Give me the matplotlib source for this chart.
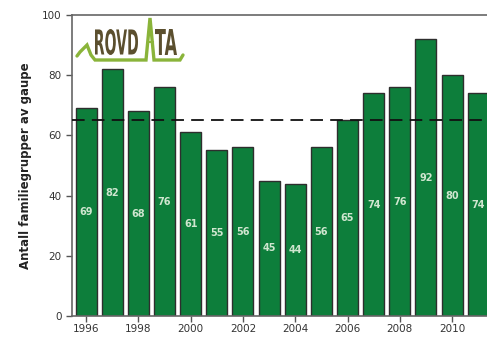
import matplotlib.pyplot as plt
from matplotlib.lines import Line2D
from matplotlib.textpath import TextPath
from matplotlib.patches import PathPatch
from matplotlib.font_manager import FontProperties
from matplotlib.transforms import Affine2D

years = [1996, 1997, 1998, 1999, 2000, 2001, 2002, 2003,
         2004, 2005, 2006, 2007, 2008, 2009, 2010, 2011]
counts = [69, 82, 68, 76, 61, 55, 56, 45, 44, 56, 65, 74, 76, 92, 80, 74]
target = 65
xticks = [1996, 1998, 2000, 2002, 2004, 2006, 2008, 2010]
yticks = [0, 20, 40, 60, 80, 100]

W, H = 487, 342
fig = plt.figure(figsize=(W / 100, H / 100), dpi=100)
fig.patch.set_facecolor('white')

# axes run past the right edge so the last bar is cut off
px_per_year = 26.14
x0 = 1995.46
x1 = 2011.6
left, top, bottom = 72, 15, 316
ax = fig.add_axes([left / W, (H - bottom) / H,
                   (x1 - x0) * px_per_year / W, (bottom - top) / H])

ax.bar(years, counts, width=0.8, color='#0d7e3b',
       edgecolor='#2e2e2e', linewidth=1.0, zorder=2)
for x, v in zip(years, counts):
    ax.text(x, v / 2, str(v), ha='center', va='center', fontsize=7,
            color='#cfe6cf', fontweight='bold', zorder=3)

ax.axhline(target, color='#111111', lw=1.3, ls=(0, (7, 4)), zorder=4)

ax.set_xlim(x0, x1)
ax.set_ylim(0, 100)
ax.set_xticks(xticks)
ax.set_yticks(yticks)
ax.tick_params(axis='both', direction='out', length=4, width=1,
               colors='#555555', labelcolor='#333333', labelsize=7.5)
ax.tick_params(axis='x', pad=2)
for s in ('left', 'bottom', 'top'):
    ax.spines[s].set_color('#666666')
    ax.spines[s].set_linewidth(1.2)
ax.spines['right'].set_visible(False)

ax.set_ylabel('Antall familiegrupper av gaupe', fontsize=8.5,
              fontweight='bold', color='#222222', labelpad=7)


# logo: heartbeat line and squeezed lettering, in pixel coordinates
def to_fig(px, py):
    return px / W, 1 - py / H


def boxed_text(s, bx0, by0, bx1, by1, color):
    tp = TextPath((0, 0), s, size=10,
                  prop=FontProperties(family='DejaVu Sans', weight='bold'))
    ext = tp.get_extents()
    sx = (bx1 - bx0) / ext.width
    sy = (by1 - by0) / ext.height
    tr = (Affine2D().translate(-ext.x0, -ext.y0).scale(sx / W, sy / H)
          .translate(bx0 / W, 1 - by1 / H) + fig.transFigure)
    fig.add_artist(PathPatch(tp, transform=tr, facecolor=color,
                             edgecolor='none'))


lx = [77, 80, 87, 91, 95, 146, 150, 154, 180, 183]
ly = [56, 52, 45, 55, 60, 60, 18, 60, 60, 55]
pts = [to_fig(a, b) for a, b in zip(lx, ly)]
fig.add_artist(Line2D([p[0] for p in pts], [p[1] for p in pts],
                      color='#8ab43a', lw=2.4, transform=fig.transFigure,
                      solid_joinstyle='miter', solid_capstyle='round'))
cx = [to_fig(147.5, 42), to_fig(152.5, 42)]
fig.add_artist(Line2D([cx[0][0], cx[1][0]], [cx[0][1], cx[1][1]],
                      color='#8ab43a', lw=1.5, transform=fig.transFigure))
boxed_text('ROVD', 95, 29, 138, 55, '#5b4f2e')
boxed_text('TA', 155, 29, 177, 55, '#5b4f2e')

fig.savefig('out.png', dpi=100)
